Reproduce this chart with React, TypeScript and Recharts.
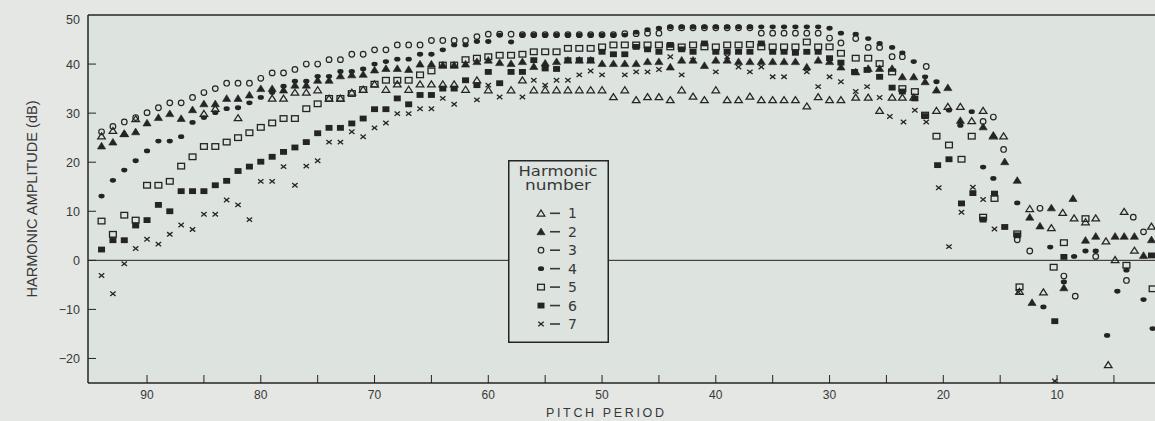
import React from 'react';
import { ScatterChart, Scatter, XAxis, YAxis, ReferenceLine, Legend, Label, CartesianGrid } from 'recharts';

type P = [number, number];

// Harmonic 1 (open triangle)
const harmonic1: P[] = [
  [94, 25.3], [93, 26.4], [92, 25.8], [91, 28.8], [85, 29.9], [84, 30.9], [82, 29.0], [79, 33], [78, 33],
  [77, 34.2], [76, 34.2], [75, 34.7], [74, 33], [73, 33], [72, 34.2], [71, 34.8], [70, 35.9], [69, 34.8], [68, 35.9],
  [67, 34.8], [66, 35.9], [65, 35.9], [64, 35.9], [63, 35.9], [62, 34.8], [61, 36.7], [60, 34.7], [58, 34.7], [57, 36.7],
  [56, 34.7], [55, 34.7], [54, 34.7], [53, 34.7], [52, 34.7], [51, 34.7], [50, 34.7], [49, 33.3], [48, 34.7], [47, 32.7],
  [46, 33.3], [45, 33.3], [44, 32.7], [43, 34.7], [42, 33.4], [41, 32.7], [40, 34.7], [39, 32.7], [38, 32.7], [37, 33.4],
  [36, 32.7], [35, 32.7], [34, 32.7], [33, 32.7], [32, 31.4], [31, 33.3], [30, 32.7], [29, 32.7],
  [27.7, 33.2], [26.6, 33.2], [25.6, 30.5], [24.5, 33.2], [23.6, 33.2], [22.6, 33.2], [20.6, 30.5], [19.6, 31.3],
  [18.5, 31.3], [17.5, 28.4], [16.5, 30.5], [15.6, 25.3], [14.7, 25.3],
  [12.4, 10.5], [10.5, 6.6], [9.5, 9.7], [8.5, 8.6], [7.5, 7.8], [6.6, 8.6], [5.7, 3.9], [4.9, 0.1], [4.1, 9.9],
  [3.2, 2.0], [1.7, 6.9], [13.3, -6.4], [11.2, -6.5], [5.5, -21.3],
];

// Harmonic 2 (filled triangle)
const harmonic2: P[] = [
  [94, 23.3], [93, 24.1], [92, 25.8], [91, 26.2], [90, 28], [89, 29.1], [88, 29.9], [87, 28.9], [86, 30.7], [85, 31.9],
  [84, 31.9], [83, 33], [82, 33], [81, 33.7], [80, 35], [79, 35], [78, 34.7], [77, 35.7], [76, 35.7], [75, 36.7],
  [74, 36.7], [73, 37.6], [72, 37.8], [71, 37.9], [70, 38.8], [69, 39.1], [68, 39.1], [67, 38.9], [66, 40], [65, 40],
  [64, 39.8], [63, 39.8], [62, 40], [61, 40.5], [60, 40.8], [59, 40.3], [58, 40.1], [57, 40.5], [56, 39.5], [55, 40.2],
  [54, 40.5], [53, 40.8], [52, 40.8], [51, 40.8], [50, 40.1], [49, 40.1], [48, 40.1], [47, 40.1], [46, 40.5], [45, 40.5],
  [44, 39.4], [43, 40.8], [42, 40.8], [41, 39.7], [40, 40.8], [39, 40.8], [38, 40.5], [37, 40.5], [36, 40.5], [35, 40.5],
  [34, 40.5], [33, 40.5], [32, 39.4], [31, 40.8], [30, 40.5], [29, 39.4],
  [27.7, 38.4], [26.6, 39.1], [25.6, 39.1], [24.5, 39.1], [23.6, 37.4], [22.6, 37.4], [21.6, 36.4], [20.6, 34.7],
  [19.6, 35.2], [18.5, 28.5], [16.5, 27.2], [15.6, 25.5],
  [14.6, 20.1], [13.5, 16.3], [12.4, 8.8], [11.5, 7.0], [10.5, 10.7], [8.6, 12.6], [7.5, 4.1], [6.6, 4.9], [4.9, 4.9],
  [4.1, 4.9], [3.2, 4.9], [2.4, 1.0], [1.7, 4.2], [9.4, -5.6], [12.2, -8.6],
];

// Harmonic 3 (open circle)
const harmonic3: P[] = [
  [94, 26.2], [93, 27.3], [92, 28.2], [91, 29.1], [90, 30.1], [89, 31.1], [88, 32.1], [87, 32.1], [86, 33.2], [85, 34.2],
  [84, 35.0], [83, 36.1], [82, 36.1], [81, 36.1], [80, 37.1], [79, 38.2], [78, 38.2], [77, 38.9], [76, 40], [75, 40],
  [74, 40.9], [73, 40.9], [72, 42], [71, 42], [70, 42.9], [69, 42.9], [68, 43.9], [67, 43.9], [66, 43.9], [65, 44.8],
  [64, 44.8], [63, 44.8], [62, 44.8], [61, 45.6], [60, 46.1], [59, 46.1], [58, 46.1], [57, 46], [56, 46], [55, 46],
  [54, 46], [53, 46], [52, 46], [51, 46], [50, 46], [49, 46], [48, 46.2], [47, 46.2], [46, 46.3], [45, 46.3],
  [44, 47.4], [43, 47.4], [42, 47.4], [41, 47.4], [40, 47.4], [39, 47.4], [38, 47.4], [37, 47.4], [36, 46.3], [35, 46.3],
  [34, 46.3], [33, 46.3], [32, 46.3], [31, 46.3], [30, 45.3], [29, 44.3],
  [27.7, 45.2], [26.6, 43.4], [25.6, 43.4], [24.5, 41.5], [23.6, 41.5], [21.5, 39.5], [16.5, 28.3], [15.6, 29.2], [14.7, 22.6],
  [13.5, 4.2], [12.4, 1.9], [11.5, 10.6], [9.4, -3.2], [8.4, -7.3], [6.6, 0.8], [3.9, -4.1], [3.3, 8.8], [2.4, 5.8],
];

// Harmonic 4 (filled circle)
const harmonic4: P[] = [
  [94, 13.1], [93, 16.3], [92, 18.4], [91, 20.3], [90, 22.3], [89, 24.3], [88, 24.3], [87, 25.2], [86, 28.1], [85, 29.1],
  [84, 30.1], [83, 30.9], [82, 31.1], [81, 32.1], [80, 33.2], [79, 34.2], [78, 35.5], [77, 36.5], [76, 36.5], [75, 37.5],
  [74, 37.5], [73, 38.5], [72, 38.5], [71, 39], [70, 40], [69, 40.5], [68, 41], [67, 41], [66, 42], [65, 42],
  [64, 42.9], [63, 43.9], [62, 43.9], [61, 44.6], [60, 44.6], [59, 45.9], [58, 44.5], [57, 45.9], [56, 45.9], [55, 45.9],
  [54, 45.9], [53, 45.9], [52, 45.9], [51, 45.9], [50, 45.9], [49, 45.9], [48, 45.9], [47, 46.5], [46, 47], [45, 47.3],
  [44, 47.6], [43, 47.6], [42, 47.6], [41, 47.6], [40, 47.6], [39, 47.6], [38, 47.6], [37, 47.6], [36, 47.6], [35, 47.6],
  [34, 47.6], [33, 47.6], [32, 47.6], [31, 47.6], [30, 47.3], [29, 46.3],
  [27.7, 46.1], [26.6, 45.2], [25.6, 44.2], [24.5, 43.4], [23.6, 42.3], [22.6, 40.5], [21.6, 37.4], [20.6, 36.4],
  [19.5, 30.6], [18.5, 27.5], [17.5, 30.3], [16.5, 19.0], [15.6, 16.7], [13.5, 11.7], [10.6, 2.7],
  [7.5, 1.9], [6.6, 1.9], [8.5, 0.8], [3.9, -2.0], [9.4, -4.4], [11.2, -9.5], [4.7, -6.3], [2.4, -8.0], [1.6, -13.9], [5.6, -15.3],
];

// Harmonic 5 (open square)
const harmonic5: P[] = [
  [94, 8.0], [93, 5.3], [92, 9.2], [91, 8.2], [90, 15.3], [89, 15.3], [88, 16.1], [87, 19.2], [86, 21.1], [85, 23.2],
  [84, 23.2], [83, 24.1], [82, 25.0], [81, 26.0], [80, 27.1], [79, 28], [78, 28.9], [77, 28.9], [76, 30.9], [75, 31.9],
  [74, 33], [73, 33], [72, 34], [71, 34.8], [70, 35.9], [69, 36.7], [68, 36.7], [67, 36.7], [66, 37.8], [65, 38.6],
  [64, 39.8], [63, 39.8], [62, 40.9], [61, 41.2], [60, 41.5], [59, 41.8], [58, 41.8], [57, 42], [56, 42.5], [55, 42.5],
  [54, 42.5], [53, 43.2], [52, 43.2], [51, 43.2], [50, 43.5], [49, 43.9], [48, 43.9], [47, 43.9], [46, 43.9], [45, 43.9],
  [44, 43.5], [43, 43.5], [42, 43.9], [41, 43.5], [40, 43.5], [39, 43.9], [38, 43.9], [37, 44], [36, 43.5], [35, 43.5],
  [34, 43.5], [33, 43.5], [32, 44.5], [31, 43.5], [30, 43.5], [29, 42.2],
  [27.7, 41.2], [26.6, 41.2], [25.6, 40.1], [24.5, 38.4], [23.6, 35], [22.5, 34.4], [21.6, 29.6], [20.6, 25.3],
  [19.5, 23.5], [18.4, 20.6], [17.5, 25.3], [16.5, 8.8], [15.5, 12.6], [13.5, 5.4],
  [7.5, 8.5], [9.4, 3.6], [10.3, -1.4], [3.9, -1.0], [13.3, -5.4], [1.6, -5.8],
];

// Harmonic 6 (filled square)
const harmonic6: P[] = [
  [94, 2.2], [93, 4.1], [92, 4.1], [91, 7.1], [90, 8.2], [89, 11.3], [88, 10], [87, 14.1], [86, 14.1], [85, 14.1],
  [84, 15.3], [83, 16.2], [82, 18.2], [81, 19.1], [80, 20.1], [79, 21.1], [78, 22.1], [77, 23], [76, 24.1], [75, 25.9],
  [74, 27], [73, 27], [72, 27.9], [71, 28.9], [70, 30.8], [69, 30.8], [68, 33], [67, 31.8], [66, 33.7], [65, 33.7],
  [64, 35], [63, 35], [62, 36.7], [61, 35.7], [60, 38.4], [59, 36.1], [58, 38.4], [57, 38.4], [56, 40.8], [55, 39.1],
  [54, 39], [53, 40.8], [52, 40.8], [51, 40.8], [50, 42.5], [49, 42], [48, 42], [47, 43.5], [46, 43], [45, 42.5],
  [44, 43.9], [43, 43], [42, 42.5], [41, 44.2], [40, 42.5], [39, 42.5], [38, 42.5], [37, 42.5], [36, 44.2], [35, 42.5],
  [34, 42.5], [33, 42.3], [32, 42.5], [31, 42.5], [30, 41.2], [29, 40.3],
  [27.8, 38.4], [26.7, 38.8], [25.6, 37.4], [24.5, 35.2], [23.6, 34.4], [22.5, 33], [21.6, 29.4], [20.5, 19.4],
  [19.5, 20.6], [18.4, 11.6], [17.4, 13.7], [16.5, 8.3], [15.5, 13.6], [14.6, 6.8], [13.5, 5.1],
  [9.4, 0.7], [1.7, 1.0], [10.2, -12.4],
];

// Harmonic 7 (cross)
const harmonic7: P[] = [
  [94, -3.1], [93, -6.8], [92, -0.7], [91, 2.4], [90, 4.3], [89, 3.3], [88, 5.3], [87, 7.2], [86, 6.3], [85, 9.4],
  [84, 9.4], [83, 12.3], [82, 11.3], [81, 8.3], [80, 16.1], [79, 16.1], [78, 19.1], [77, 15.3], [76, 19.2], [75, 20.3],
  [74, 24.1], [73, 24.1], [72, 26.2], [71, 25.2], [70, 27], [69, 28], [68, 29.9], [67, 29.9], [66, 30.9], [65, 30.9],
  [64, 33], [63, 31.8], [61, 32.7], [60, 35.7], [59, 33.3], [57, 33.3], [56, 36.7], [55, 35.7], [54, 36.7], [53, 36.7],
  [52, 37.8], [51, 38.6], [50, 37.8], [48, 37.8], [47, 38.4], [46, 38.4], [45, 38.9], [44, 41.5], [43, 37.8], [42, 40.8],
  [40, 38.4], [39, 41.5], [38, 39.4], [37, 38.4], [36, 39.4], [35, 37.4], [34, 37.4], [32, 38.4], [31, 35.4], [30, 37.4],
  [29, 36.4], [27.7, 34.4], [26.7, 35.4], [25.6, 33.2], [24.7, 29.3], [23.5, 28.2], [22.5, 30.6], [21.5, 28.2],
  [20.4, 14.8], [19.5, 2.8], [18.4, 9.8], [17.4, 14.9], [16.5, 12.4], [15.5, 6.4], [13.4, -6.5], [10.2, -24.6],
];

const seriesNames = ['1', '2', '3', '4', '5', '6', '7'];
const seriesData = [harmonic1, harmonic2, harmonic3, harmonic4, harmonic5, harmonic6, harmonic7];
const xTicks = [5, 10, 15, 20, 25, 30, 35, 40, 45, 50, 55, 60, 65, 70, 75, 80, 85, 90];
const yTicks = [-20, -10, 0, 10, 20, 30, 40, 50];
const xDomain: [number, number] = [1.39, 95.19];
const yDomain: [number, number] = [-25, 50];

const INK = '#242424';
const TEXT = '#383838';
const PLOT_BG = '#dde3df';
const OUTER_BG = '#e4e7e4';
const FONT = '"Liberation Sans", Arial, sans-serif';
const NARROW = '"Liberation Sans Narrow", "Liberation Sans", Arial, sans-serif';
const WIDE = '"DejaVu Sans", Verdana, sans-serif';

function drawMarker(kind: number, cx: number, cy: number) {
  switch (kind) {
    case 1:
      return <polygon points={`${cx},${cy - 3.3} ${cx - 3.8},${cy + 2.7} ${cx + 3.8},${cy + 2.7}`} fill="none" stroke={INK} strokeWidth={1.25} />;
    case 2:
      return <polygon points={`${cx},${cy - 3.7} ${cx - 4.1},${cy + 3} ${cx + 4.1},${cy + 3}`} fill={INK} stroke={INK} strokeWidth={0.6} />;
    case 3:
      return <circle cx={cx} cy={cy} r={2.8} fill="none" stroke={INK} strokeWidth={1.2} />;
    case 4:
      return <ellipse cx={cx} cy={cy} rx={3.1} ry={2.4} fill={INK} />;
    case 5:
      return <rect x={cx - 3.4} y={cy - 2.8} width={6.8} height={5.6} fill="none" stroke={INK} strokeWidth={1.3} />;
    case 6:
      return <rect x={cx - 3.5} y={cy - 2.9} width={7} height={5.8} fill={INK} />;
    default:
      return (
        <g stroke={INK} strokeWidth={1.3}>
          <line x1={cx - 2.7} y1={cy - 2.2} x2={cx + 2.7} y2={cy + 2.2} />
          <line x1={cx - 2.7} y1={cy + 2.2} x2={cx + 2.7} y2={cy - 2.2} />
        </g>
      );
  }
}

const makeShape = (kind: number) => (props: any) => {
  const { cx, cy } = props;
  if (cx == null || cy == null) return <g />;
  return drawMarker(kind, cx, cy);
};

const XTick = (props: any) => {
  const { x, y, payload } = props;
  const v = payload.value;
  return (
    <g>
      <line x1={x} x2={x} y1={y} y2={y - 8} stroke={INK} strokeWidth={1} />
      {v % 10 === 0 && (
        <text x={x} y={y + 16} textAnchor="middle" fontFamily={NARROW} fontSize={12} fill={TEXT}>
          {v}
        </text>
      )}
    </g>
  );
};

const YTick = (props: any) => {
  const { x, y, payload } = props;
  const v = payload.value;
  const label = v < 0 ? `\u2212${Math.abs(v)}` : `${v}`;
  return (
    <g>
      {v !== 50 && <line x1={x} x2={x + 8} y1={y} y2={y} stroke={INK} strokeWidth={1} />}
      <text x={x - 8} y={v === 50 ? y + 9 : y + 4.5} textAnchor="end" fontFamily={FONT} fontSize={12.5} fill={TEXT}>
        {label}
      </text>
    </g>
  );
};

const YTitle = () => (
  <text
    x={37}
    y={199}
    transform="rotate(-90 37 199)"
    textAnchor="middle"
    fontFamily={NARROW}
    fontSize={14}
    fill={TEXT}
    textLength={197}
    lengthAdjust="spacingAndGlyphs"
  >
    HARMONIC AMPLITUDE (dB)
  </text>
);

const XTitle = () => (
  <text
    x={605}
    y={417}
    textAnchor="middle"
    fontFamily={FONT}
    fontSize={12.5}
    fill={TEXT}
    textLength={118}
    lengthAdjust="spacing"
  >
    PITCH PERIOD
  </text>
);

const renderLegend = (props: any) => {
  const payload: any[] = props.payload || [];
  return (
    <svg width={101} height={183} style={{ display: 'block' }}>
      <rect x={0.75} y={0.75} width={99.5} height={181.5} fill={PLOT_BG} stroke={INK} strokeWidth={1.5} />
      <text x={50} y={16} textAnchor="middle" fontFamily={WIDE} fontSize={14} fill={TEXT} textLength={79} lengthAdjust="spacingAndGlyphs">
        Harmonic
      </text>
      <text x={50} y={30} textAnchor="middle" fontFamily={WIDE} fontSize={14} fill={TEXT} textLength={66} lengthAdjust="spacingAndGlyphs">
        number
      </text>
      {payload.map((p: any, i: number) => {
        const kind = Number(p.value) || i + 1;
        const cy = 53.3 + (kind - 1) * 18.45;
        return (
          <g key={`lg-${i}`}>
            {drawMarker(kind, 33, cy)}
            <line x1={42} x2={52} y1={cy} y2={cy} stroke={TEXT} strokeWidth={1.6} />
            <text x={60} y={cy + 5} fontFamily={WIDE} fontSize={14} fill={TEXT}>
              {p.value}
            </text>
          </g>
        );
      })}
    </svg>
  );
};

export default function App() {
  return (
    <div style={{ position: 'absolute', left: 0, top: 0, width: 1155, height: 421, background: OUTER_BG, overflow: 'hidden' }}>
      <ScatterChart width={1155} height={421} margin={{ top: 15, right: 0, bottom: 0, left: 0 }}>
        <CartesianGrid horizontal={false} vertical={false} fill={PLOT_BG} stroke="none" />
        <XAxis
          type="number"
          dataKey="x"
          domain={xDomain}
          reversed
          allowDataOverflow
          ticks={xTicks}
          interval={0}
          height={38}
          tickSize={0}
          tickMargin={0}
          tickLine={false}
          tick={<XTick />}
          axisLine={{ stroke: INK, strokeWidth: 1.5 }}
        >
          <Label content={<XTitle />} />
        </XAxis>
        <YAxis
          type="number"
          dataKey="y"
          domain={yDomain}
          allowDataOverflow
          ticks={yTicks}
          interval={0}
          width={88}
          tickSize={0}
          tickMargin={0}
          tickLine={false}
          tick={<YTick />}
          axisLine={{ stroke: INK, strokeWidth: 1.5 }}
        >
          <Label content={<YTitle />} />
        </YAxis>
        <ReferenceLine y={0} stroke={INK} strokeWidth={1} />
        <ReferenceLine y={50} stroke={INK} strokeWidth={1.3} />
        {seriesData.map((d, i) => (
          <Scatter
            key={seriesNames[i]}
            name={seriesNames[i]}
            data={d.map(([x, y]) => ({ x, y }))}
            shape={makeShape(i + 1)}
            isAnimationActive={false}
          />
        ))}
        <Legend
          layout="vertical"
          align="center"
          verticalAlign="middle"
          content={renderLegend}
          wrapperStyle={{ left: 508, top: 160, width: 101, height: 183 }}
        />
      </ScatterChart>
    </div>
  );
}
